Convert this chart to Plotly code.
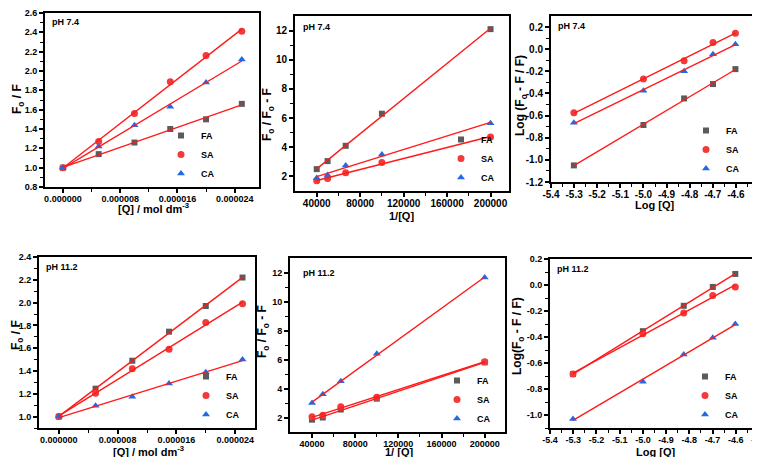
import numpy as np
import plotly.graph_objects as go

W, H = 760, 457

# ---------------- data ----------------
Q = [0.0, 5e-6, 1e-5, 1.5e-5, 2e-5, 2.5e-5]
INV_Q = [40000, 50000, 66667, 100000, 200000]
LOG_Q = [-5.301, -5.0, -4.824, -4.699, -4.602]
SPECIES = ["FA", "SA", "CA"]

# pH 7.4
sv74_FA = [1.0, 1.14, 1.26, 1.40, 1.50, 1.66]
sv74_SA = [1.0, 1.27, 1.56, 1.89, 2.16, 2.41]
sv74_CA = [1.0, 1.22, 1.44, 1.63, 1.88, 2.12]
lb74_FA = [2.50, 3.05, 4.10, 6.30, 12.10]
lb74_SA = [1.70, 1.85, 2.25, 2.95, 4.70]
lb74_CA = [1.90, 2.10, 2.75, 3.50, 5.65]
dl74_FA = [-1.050, -0.685, -0.445, -0.315, -0.180]
dl74_SA = [-0.575, -0.270, -0.105, 0.060, 0.145]
dl74_CA = [-0.665, -0.375, -0.200, -0.045, 0.045]

# pH 11.2
sv112_FA = [1.0, 1.245, 1.49, 1.745, 1.97, 2.22]
sv112_SA = [1.0, 1.205, 1.42, 1.59, 1.825, 1.99]
sv112_CA = [1.0, 1.095, 1.175, 1.29, 1.39, 1.50]
lb112_FA = [1.85, 2.00, 2.55, 3.30, 5.80]
lb112_SA = [2.05, 2.15, 2.75, 3.40, 5.85]
lb112_CA = [3.00, 3.60, 4.50, 6.40, 11.65]
dl112_FA = [-0.685, -0.355, -0.160, -0.015, 0.085]
dl112_SA = [-0.685, -0.375, -0.215, -0.080, -0.015]
dl112_CA = [-1.030, -0.745, -0.535, -0.405, -0.300]

# tick labels / tick positions
sv_xticks = [0, 8e-6, 16e-6, 24e-6]
sv_xtext = ["0.000000", "0.000008", "0.000016", "0.000024"]
sv_xminor = [-4e-6, 4e-6, 12e-6, 20e-6]
sv74_yticks = [0.8, 1.0, 1.2, 1.4, 1.6, 1.8, 2.0, 2.2, 2.4, 2.6]
sv74_yminor = [0.9, 1.1, 1.3, 1.5, 1.7, 1.9, 2.1, 2.3, 2.5]
sv112_yticks = [1.0, 1.2, 1.4, 1.6, 1.8, 2.0, 2.2, 2.4]
sv112_yminor = [0.9, 1.1, 1.3, 1.5, 1.7, 1.9, 2.1, 2.3]
lb_xticks = [40000, 80000, 120000, 160000, 200000]
lb_xminor = [60000, 100000, 140000, 180000]
lb_yticks = [2, 4, 6, 8, 10, 12]
lb_yminor = [3, 5, 7, 9, 11]
dl_xticks = [-5.4, -5.3, -5.2, -5.1, -5.0, -4.9, -4.8, -4.7, -4.6, -4.5]
dl_xminor = [-5.35, -5.25, -5.15, -5.05, -4.95, -4.85, -4.75, -4.65, -4.55]
dl74_yticks = [-1.2, -1.0, -0.8, -0.6, -0.4, -0.2, 0.0, 0.2]
dl74_yminor = [-1.1, -0.9, -0.7, -0.5, -0.3, -0.1, 0.1]
dl112_yticks = [-1.0, -0.8, -0.6, -0.4, -0.2, 0.0, 0.2]
dl112_yminor = [-1.1, -0.9, -0.7, -0.5, -0.3, -0.1, 0.1]

# ---------------- styling ----------------
FONT = "Liberation Sans, Arial, sans-serif"
MARK = {
    "FA": dict(symbol="square", color="#5b5b5b", size=6),
    "SA": dict(symbol="circle", color="#f23a3a", size=7),
    "CA": dict(symbol="triangle-up", color="#2369e6", size=7),
}
LINE_COLOR = "#ff1a1a"


def lab(v, nd=1):
    return "<b>" + f"{v:.{nd}f}" + "</b>"


def labs(vals, nd=1):
    return [lab(v, nd) for v in vals]


def labi(vals):
    return ["<b>" + str(v) + "</b>" for v in vals]


panels = [
    dict(box=(37, 251, 5, 179), x=Q, ys=[sv74_FA, sv74_SA, sv74_CA],
         xr=[-2.5e-6, 27.4e-6], yr=[0.8, 2.6],
         xt=sv_xticks, xtt=["<b>%s</b>" % s for s in sv_xtext], xm=sv_xminor,
         yt=sv74_yticks, ytt=labs(sv74_yticks), ym=sv74_yminor,
         xtitle="[Q] / mol dm<sup>-3</sup>", xtpos=(145, 200),
         ytitle="F<sub>o</sub> / F", ytpos=(10, 91),
         ph="pH 7.4", phpos=(42, 14), legx=153, tfs=9),
    dict(box=(287, 501, 8, 183), x=INV_Q, ys=[lb74_FA, lb74_SA, lb74_CA],
         xr=[20000, 217000], yr=[1.0, 13.0],
         xt=lb_xticks, xtt=labi(lb_xticks), xm=lb_xminor,
         yt=lb_yticks, ytt=labi(lb_yticks), ym=lb_yminor,
         xtitle="1/[Q]", xtpos=(394, 208),
         ytitle="F<sub>o</sub> / F<sub>o</sub> - F", ytpos=(260, 107),
         ph="pH 7.4", phpos=(293, 19), legx=433, tfs=10),
    dict(box=(543, 751, 8, 174), x=LOG_Q, ys=[dl74_FA, dl74_SA, dl74_CA],
         xr=[-5.4, -4.5], yr=[-1.2, 0.3],
         xt=dl_xticks, xtt=labs(dl_xticks), xm=dl_xminor,
         yt=dl74_yticks, ytt=labs(dl74_yticks), ym=dl74_yminor,
         xtitle="Log [Q]", xtpos=(646, 197),
         ytitle="Log (F<sub>o</sub> - F / F)", ytpos=(513, 88),
         ph="pH 7.4", phpos=(548, 18), legx=678, tfs=10),
    dict(box=(31, 247, 249, 420), x=Q, ys=[sv112_FA, sv112_SA, sv112_CA],
         xr=[-2.7e-6, 26.7e-6], yr=[0.9, 2.4],
         xt=sv_xticks, xtt=["<b>%s</b>" % s for s in sv_xtext], xm=sv_xminor,
         yt=sv112_yticks, ytt=labs(sv112_yticks), ym=sv112_yminor,
         xtitle="[Q] / mol dm<sup>-3</sup>", xtpos=(140, 443),
         ytitle="F<sub>o</sub> / F", ytpos=(9, 327),
         ph="pH 11.2", phpos=(36, 259), legx=178, tfs=9),
    dict(box=(282, 497, 250, 424), x=INV_Q, ys=[lb112_FA, lb112_SA, lb112_CA],
         xr=[19600, 218800], yr=[1.0, 13.0],
         xt=lb_xticks, xtt=labi(lb_xticks), xm=lb_xminor,
         yt=lb_yticks, ytt=labi(lb_yticks), ym=lb_yminor,
         xtitle="1/ [Q]", xtpos=(391, 444),
         ytitle="F<sub>o</sub> / F<sub>o</sub> - F", ytpos=(255, 324),
         ph="pH 11.2", phpos=(293, 265), legx=429, tfs=9),
    dict(box=(542, 751, 251, 420), x=LOG_Q, ys=[dl112_FA, dl112_SA, dl112_CA],
         xr=[-5.4, -4.5], yr=[-1.1, 0.2],
         xt=dl_xticks, xtt=labs(dl_xticks), xm=dl_xminor,
         yt=dl112_yticks, ytt=labs(dl112_yticks), ym=dl112_yminor,
         xtitle="Log [Q]", xtpos=(647, 444),
         ytitle="Log(F<sub>o</sub> - F / F)", ytpos=(510, 328),
         ph="pH 11.2", phpos=(547, 261), legx=677, tfs=9),
]

fig = go.Figure()
layout = dict(
    width=W, height=H, margin=dict(l=0, r=0, t=0, b=0, autoexpand=False),
    paper_bgcolor="white", plot_bgcolor="white",
    font=dict(family=FONT, color="black"),
    annotations=[],
)


def ann(text, px, py, size, angle=0, xanchor="center"):
    return dict(text="<b>" + text + "</b>", xref="paper", yref="paper",
                x=px / W, y=1 - py / H, xanchor=xanchor, yanchor="middle",
                showarrow=False, textangle=angle,
                font=dict(family=FONT, size=size, color="black"))


for i, p in enumerate(panels, start=1):
    L, R, T, B = p["box"]
    xa = "x" if i == 1 else f"x{i}"
    ya = "y" if i == 1 else f"y{i}"
    legname = "legend" if i == 1 else f"legend{i}"
    x = np.array(p["x"], dtype=float)

    for name, yv in zip(SPECIES, p["ys"]):
        m = MARK[name]
        fig.add_trace(go.Scatter(
            x=x, y=yv, mode="markers", name="<b>" + name + "</b>",
            xaxis=xa, yaxis=ya, legend=legname,
            marker=dict(symbol=m["symbol"], color=m["color"], size=m["size"],
                        line=dict(width=0)),
        ))
    for name, yv in zip(SPECIES, p["ys"]):
        k, b = np.polyfit(x, np.array(yv, dtype=float), 1)
        xl = np.array([x.min(), x.max()])
        fig.add_trace(go.Scatter(
            x=xl, y=k * xl + b, mode="lines", showlegend=False,
            xaxis=xa, yaxis=ya, line=dict(color=LINE_COLOR, width=1.4),
            hoverinfo="skip",
        ))

    tickfont = dict(family=FONT, size=p["tfs"], color="black")
    common = dict(showline=True, linewidth=2, linecolor="black", mirror=True,
                  showgrid=False, zeroline=False, ticks="outside", ticklen=4,
                  tickwidth=1.5, tickcolor="black", tickfont=tickfont,
                  tickmode="array", automargin=False)
    xkey = "xaxis" if i == 1 else f"xaxis{i}"
    ykey = "yaxis" if i == 1 else f"yaxis{i}"
    layout[xkey] = dict(
        common, domain=[L / W, R / W], anchor=ya, range=p["xr"],
        tickvals=p["xt"], ticktext=p["xtt"], ticklabelstandoff=-2,
        minor=dict(ticks="outside", ticklen=3, tickwidth=1.2, tickcolor="black",
                   tickmode="array", tickvals=p["xm"], showgrid=False),
    )
    layout[ykey] = dict(
        common, domain=[1 - B / H, 1 - T / H], anchor=xa, range=p["yr"],
        tickvals=p["yt"], ticktext=p["ytt"],
        minor=dict(ticks="outside", ticklen=3, tickwidth=1.2, tickcolor="black",
                   tickmode="array", tickvals=p["ym"], showgrid=False),
    )
    layout[legname] = dict(
        x=p["legx"] / W, y=1 - (B - 66) / H, xanchor="left", yanchor="top",
        bgcolor="rgba(0,0,0,0)", borderwidth=0, itemwidth=30,
        font=dict(family=FONT, size=9, color="black"),
        tracegroupgap=0,
    )
    layout["annotations"].append(ann(p["ph"], p["phpos"][0], p["phpos"][1], 9,
                                     xanchor="left"))
    layout["annotations"].append(ann(p["xtitle"], p["xtpos"][0], p["xtpos"][1], 11))
    layout["annotations"].append(ann(p["ytitle"], p["ytpos"][0], p["ytpos"][1], 12,
                                     angle=-90))

fig.update_layout(**layout)
fig.write_html("out.html")
